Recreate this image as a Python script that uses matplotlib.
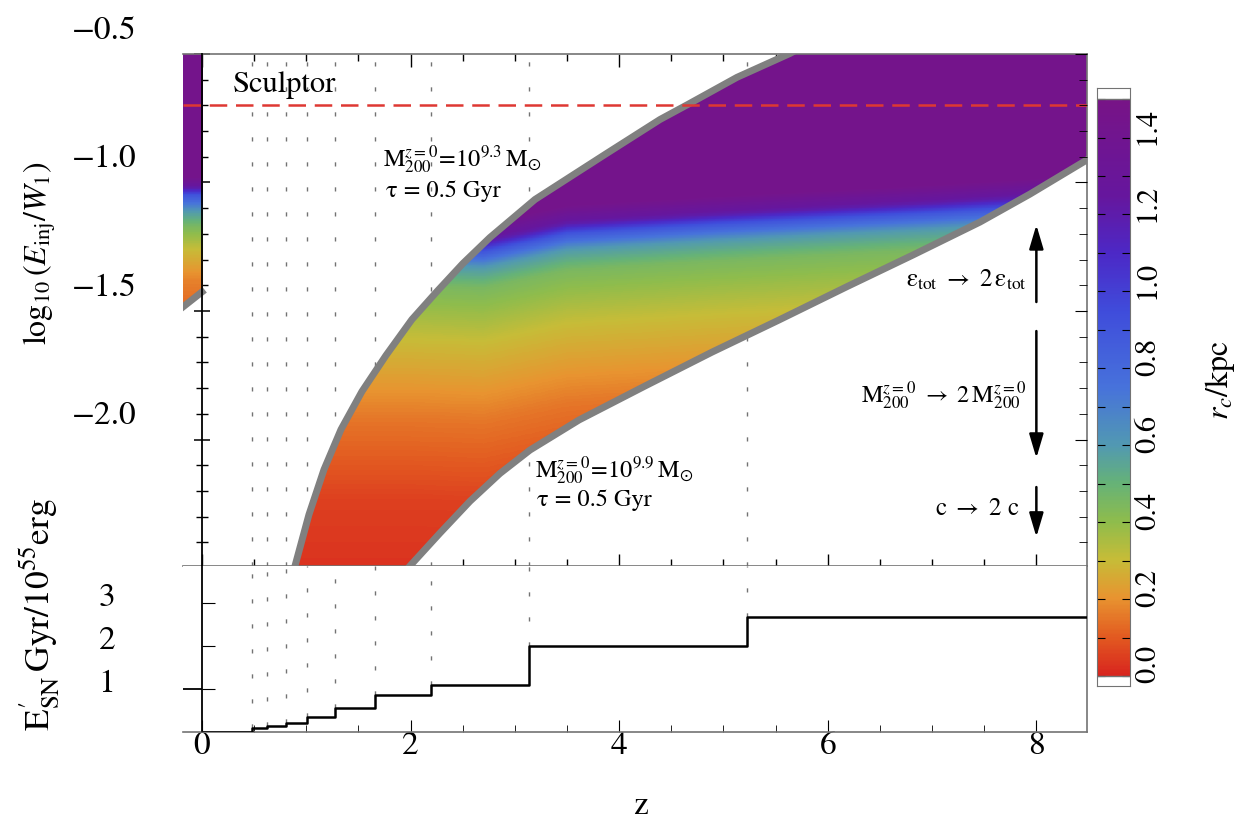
import numpy as np
import matplotlib
matplotlib.use("Agg")
import matplotlib.pyplot as plt
from matplotlib.colors import LinearSegmentedColormap
from matplotlib.ticker import MultipleLocator

plt.rcParams["font.family"] = ["STIXGeneral", "DejaVu Serif"]
plt.rcParams["mathtext.fontset"] = "stix"

# edge of the allowed band, M200(z=0) = 10^9.3 Msun
upper_z = [0.82, 0.892, 1.026, 1.170, 1.333, 1.534, 1.764, 2.013, 2.253,
           2.502, 2.761, 3.193, 3.864, 4.391, 4.660, 5.129, 5.637, 6.069]
upper_y = [-2.60, -2.492, -2.292, -2.117, -1.961, -1.813, -1.673, -1.533,
           -1.424, -1.315, -1.214, -1.066, -0.891, -0.755, -0.696, -0.591,
           -0.498, -0.405]
# edge of the allowed band, M200(z=0) = 10^9.9 Msun
lower_z = [1.85, 1.994, 2.282, 2.570, 2.857, 3.145, 3.615, 4.247, 4.890,
           5.532, 6.175, 6.817, 7.459, 7.939, 8.485, 8.60]
lower_y = [-2.56, -2.492, -2.364, -2.240, -2.132, -2.041, -1.924, -1.792,
           -1.660, -1.535, -1.407, -1.282, -1.154, -1.045, -0.912, -0.88]

# core radius r_c [kpc] vs offset from the r_c = 0.9 kpc contour
rc_offset = [-1.30, -0.98, -0.66, -0.35, -0.14, -0.06, 0.0, 0.04, 0.11, 0.60]
rc_value = [0.02, 0.05, 0.15, 0.30, 0.45, 0.60, 0.90, 1.20, 1.45, 1.45]
contour_z = [-0.2, 2.0, 2.7, 3.5, 4.9, 7.0, 8.6]
contour_y = [-1.26, -1.26, -1.27, -1.20, -1.165, -1.12, -1.08]

# z < 0 strip
strip_y = [-1.50, -1.38, -1.26, -1.17, -1.11, -1.05, -1.02, -0.98]
strip_rc = [0.12, 0.17, 0.30, 0.45, 0.60, 0.90, 1.20, 1.45]
strip_edge_z = [-0.20, 0.0]
strip_edge_y = [-1.49, -1.426]

sculptor_y = -0.70

# SN energy per Gyr, constant between bursts
burst_z = [0.0, 0.48, 0.62, 0.81, 1.01, 1.28, 1.66, 2.20, 3.14, 5.23, 8.6]
burst_e = [0.0, 0.085, 0.14, 0.20, 0.34, 0.565, 0.86, 1.09, 2.0, 2.67, 2.67]

zmin, zmax = -0.182, 8.485
ymin, ymax = -2.492, -0.5
emax = 3.86
rc_max = 1.5

rainbow_v = [0.0, 0.1, 0.2, 0.3, 0.4, 0.5, 0.6, 0.75, 0.95, 1.1, 1.25, 1.5]
rainbow_c = [(0.85, 0.15, 0.12), (0.89, 0.36, 0.13), (0.91, 0.58, 0.19),
             (0.78, 0.74, 0.22), (0.56, 0.74, 0.30), (0.40, 0.70, 0.47),
             (0.32, 0.60, 0.70), (0.28, 0.45, 0.86), (0.25, 0.30, 0.86),
             (0.30, 0.16, 0.78), (0.40, 0.09, 0.62), (0.47, 0.08, 0.53)]
cmap = LinearSegmentedColormap.from_list(
    "rainbow_rc", list(zip(np.array(rainbow_v) / rc_max, rainbow_c)))

fig = plt.figure(figsize=(12.37, 8.23), dpi=100)
ax = fig.add_axes([0.1479, 0.3123, 0.7308, 0.6221])
ax2 = fig.add_axes([0.1479, 0.1106, 0.7308, 0.2017])
cax = fig.add_axes([0.8868, 0.1665, 0.0267, 0.7266])

# --- r_c map ---
zg = np.linspace(zmin, zmax, 1200)
yg = np.linspace(ymin, ymax, 700)
Z, Y = np.meshgrid(zg, yg)
rc = np.interp(Y - np.interp(Z, contour_z, contour_y), rc_offset, rc_value)
rc_left = np.interp(Y, strip_y, strip_rc)
band = ((Y < np.interp(Z, upper_z, upper_y)) &
        (Y > np.interp(Z, lower_z, lower_y)) & (Z >= 0))
left = (Z < 0) & (Y > np.interp(Z, strip_edge_z, strip_edge_y))
field = np.ma.masked_array(np.where(Z < 0, rc_left, rc), ~(band | left))
ax.imshow(field, extent=(zmin, zmax, ymin, ymax), origin="lower",
          aspect="auto", cmap=cmap, vmin=0, vmax=rc_max,
          interpolation="nearest", zorder=2)

ax.plot(upper_z, upper_y, color="0.5", lw=5, zorder=3)
ax.plot(lower_z, lower_y, color="0.5", lw=5, zorder=3)
ax.plot(strip_edge_z, strip_edge_y, color="0.5", lw=5, zorder=3)

ax.vlines(burst_z[1:-1], ymin, ymax, colors="0.45", lw=1.0,
          linestyles=(0, (3, 15)), zorder=1)
ax.axhline(sculptor_y, color=(0.87, 0.22, 0.2), lw=1.8, dashes=(7, 3.5),
           zorder=4)

ax.set_xlim(zmin, zmax)
ax.set_ylim(ymin, ymax)

for s in ["top", "right", "bottom"]:
    ax.spines[s].set_color("0.45")
    ax.spines[s].set_linewidth(1.2)
ax.spines["left"].set_position(("data", 0))
ax.spines["left"].set_color("k")
ax.spines["left"].set_linewidth(1.3)
ax.spines["left"].set_zorder(6)

ax.set_xticks([0, 2, 4, 6, 8])
ax.xaxis.set_minor_locator(MultipleLocator(0.5))
ax.tick_params(axis="x", which="both", direction="in", top=True,
               bottom=True, labelbottom=False)
ax.tick_params(axis="x", which="major", length=9, width=1)
ax.tick_params(axis="x", which="minor", length=5, width=1)
ax.set_yticks([-2.0, -1.5, -1.0, -0.5])
ax.yaxis.set_minor_locator(MultipleLocator(0.1))
ax.tick_params(axis="y", which="both", direction="inout", left=True,
               right=False, labelleft=False)
ax.tick_params(axis="y", which="major", length=12, width=1.1)
ax.tick_params(axis="y", which="minor", length=8, width=1)

# right-hand ticks point inwards
axr = ax.twinx()
axr.set_ylim(ymin, ymax)
axr.set_yticks([-2.0, -1.5, -1.0, -0.5])
axr.yaxis.set_minor_locator(MultipleLocator(0.1))
axr.tick_params(axis="y", which="both", direction="in", labelright=False)
axr.tick_params(axis="y", which="major", length=9)
axr.tick_params(axis="y", which="minor", length=6)
for s in axr.spines.values():
    s.set_visible(False)

for v in [-0.5, -1.0, -1.5, -2.0]:
    ax.text(-0.623, v + 0.09, f"\u2212{abs(v):.1f}", ha="right", va="center",
            fontsize=24, clip_on=False)

ax.text(0.30, -0.648, "Sculptor", fontsize=22, va="baseline", zorder=5)
ax.text(1.735, -0.94, r"$\mathrm{M}_{200}^{z=0}\!=\!10^{9.3}\,\mathrm{M}_{\odot}$",
        fontsize=17.5, va="baseline")
ax.text(1.76, -1.056, "τ = 0.5 Gyr", fontsize=17.5, va="baseline")
ax.text(3.19, -2.15, r"$\mathrm{M}_{200}^{z=0}\!=\!10^{9.9}\,\mathrm{M}_{\odot}$",
        fontsize=17.5, va="baseline")
ax.text(3.21, -2.259, "τ = 0.5 Gyr", fontsize=17.5, va="baseline")

head = "-|>,head_length=1.45,head_width=0.43"
for y0, y1 in [(-1.465, -1.165), (-1.578, -2.072), (-2.185, -2.379)]:
    ax.annotate("", xy=(8.0, y1), xytext=(8.0, y0),
                arrowprops=dict(arrowstyle=head, color="k", lw=1.8,
                                shrinkA=0, shrinkB=0))
ax.text(7.91, -1.407,
        r"$\mathrm{ε}_{\rm tot}\ \rightarrow\ 2\,\mathrm{ε}_{\rm tot}$",
        fontsize=18, ha="right", va="baseline")
ax.text(7.91, -1.858,
        r"$\mathrm{M}_{200}^{z=0}\ \rightarrow\ 2\,\mathrm{M}_{200}^{z=0}$",
        fontsize=17.5, ha="right", va="baseline")
ax.text(7.84, -2.294, r"$\mathrm{c}\ \rightarrow\ 2\ \mathrm{c}$",
        fontsize=18, ha="right", va="baseline")

# --- SN energy panel ---
ax2.step(burst_z, burst_e, where="post", color="k", lw=1.8, zorder=3)
ax2.vlines(burst_z[1:-1], burst_e[1:-1], emax, colors="0.45", lw=1.0,
           linestyles=(0, (3, 15)), zorder=1)
ax2.hlines(1, zmin, 0, color="k", lw=1.3)
ax2.set_xlim(zmin, zmax)
ax2.set_ylim(0, emax)
ax2.spines["top"].set_visible(False)
for s in ["right", "bottom"]:
    ax2.spines[s].set_color("0.45")
    ax2.spines[s].set_linewidth(1.2)
ax2.spines["left"].set_position(("data", 0))
ax2.spines["left"].set_color("k")
ax2.spines["left"].set_linewidth(1.3)
ax2.set_xticks([0, 2, 4, 6, 8])
ax2.xaxis.set_minor_locator(MultipleLocator(0.5))
ax2.tick_params(axis="x", which="both", direction="in", top=False,
                bottom=True, labelsize=24, pad=0)
ax2.tick_params(axis="x", which="major", length=9)
ax2.tick_params(axis="x", which="minor", length=5)
ax2.set_yticks([1, 2, 3])
ax2.tick_params(axis="y", direction="in", length=9, labelleft=False)
for v in [1, 2, 3]:
    ax2.text(-0.911, v + 0.1, str(v), ha="center", va="center", fontsize=24,
             clip_on=False)

# --- colour bar ---
grad = np.linspace(0, rc_max, 400).reshape(-1, 1)
cax.imshow(grad, extent=(0, 1, 0, rc_max), origin="lower", aspect="auto",
           cmap=cmap, vmin=0, vmax=rc_max)
cax.set_xlim(0, 1)
cax.set_ylim(-0.026, 1.529)
cax.axhline(0, color="0.45", lw=1)
cax.axhline(rc_max, color="0.45", lw=1)
cax.set_xticks([])
cax.yaxis.set_major_locator(MultipleLocator(0.1))
cax.tick_params(axis="y", direction="in", left=True, right=True, length=6,
                labelleft=False, labelright=False)
for s in cax.spines.values():
    s.set_color("0.45")
for v in np.arange(0, 1.41, 0.2):
    cax.text(1.55, v + 0.03, f"{v:.1f}", transform=cax.get_yaxis_transform(),
             rotation=90, ha="center", va="center", fontsize=22)

fig.text(1220 / 1237, 1 - 380 / 823, r"$r_c$/kpc", rotation=90,
         ha="center", va="center", fontsize=23)
fig.text(40 / 1237, 1 - 253 / 823, r"$\log_{10}(E_{\mathrm{inj}}/W_1)$",
         rotation=90, ha="center", va="center", fontsize=23)
fig.text(40 / 1237, 1 - 615 / 823,
         r"$\mathrm{E}^{\prime}_{\mathrm{SN}}\,\mathrm{Gyr}/10^{55}\mathrm{erg}$",
         rotation=90, ha="center", va="center", fontsize=25.5)
fig.text(640 / 1237, 1 - 806 / 823, "z", ha="center", va="center", fontsize=24)

fig.savefig("out.png", dpi=100)
